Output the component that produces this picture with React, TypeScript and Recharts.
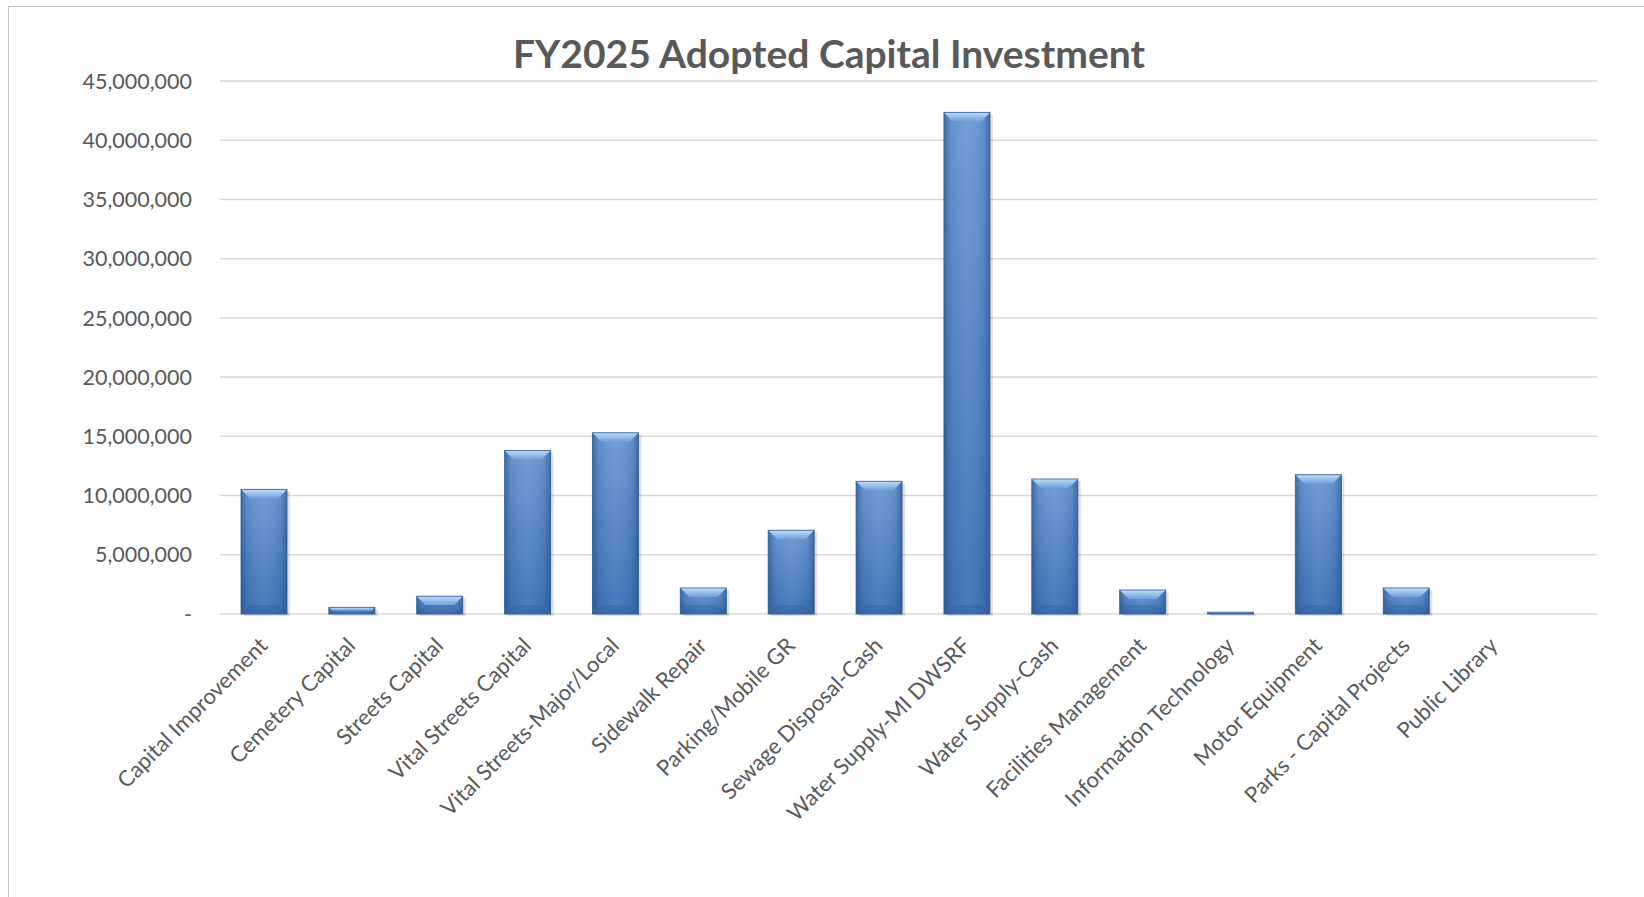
import { Bar, BarChart, CartesianGrid, XAxis, YAxis } from "recharts";

const categories = [
  "Capital Improvement",
  "Cemetery Capital",
  "Streets Capital",
  "Vital Streets Capital",
  "Vital Streets-Major/Local",
  "Sidewalk Repair",
  "Parking/Mobile GR",
  "Sewage Disposal-Cash",
  "Water Supply-MI DWSRF",
  "Water Supply-Cash",
  "Facilities Management",
  "Information Technology",
  "Motor Equipment",
  "Parks - Capital Projects",
  "Public Library",
];

const amounts = [
  10520000, 560000, 1500000, 13800000, 15300000, 2200000, 7070000, 11200000, 42350000, 11400000,
  2030000, 150000, 11760000, 2200000, 0,
];

const yTicks = [0, 5000000, 10000000, 15000000, 20000000, 25000000, 30000000, 35000000, 40000000, 45000000];

const data = categories.map((name, i) => ({ name, value: amounts[i] }));

const FONT = "Lato, 'Open Sans', sans-serif";
const TEXT = "#595959";

const fmt = (v: number) => (v === 0 ? "-" : v.toLocaleString("en-US"));

function BevelBar(props: any) {
  const { x, y, width, height } = props;
  if (!height || height <= 0) return null;
  const b = Math.min(9, height / 2, width / 2);
  return (
    <g>
      <rect x={x + 3} y={y + 2} width={width} height={height} fill="#000" opacity={0.12} />
      <rect x={x} y={y} width={width} height={height} fill="url(#barBody)" />
      <rect x={x} y={y} width={width} height={height} fill="url(#barSides)" />
      <polygon
        points={`${x},${y} ${x + width},${y} ${x + width - b},${y + b} ${x + b},${y + b}`}
        fill="url(#barTop)"
      />
      <polygon
        points={`${x},${y + height} ${x + width},${y + height} ${x + width - b},${y + height - b} ${x + b},${y + height - b}`}
        fill="#2f5f9f"
        opacity={0.35}
      />
      <rect x={x} y={y} width={width} height={height} fill="none" stroke="#2c5a94" strokeWidth={1} opacity={0.8} />
    </g>
  );
}

function XTick(props: any) {
  const { x, y, payload } = props;
  const tx = x + 5;
  const ty = y + 25;
  return (
    <text
      x={tx}
      y={ty}
      transform={`rotate(-45, ${tx}, ${ty})`}
      textAnchor="end"
      fontFamily={FONT}
      fontSize={22}
      fill={TEXT}
    >
      {payload.value}
    </text>
  );
}

export default function App() {
  return (
    <div style={{ position: "absolute", left: 0, top: 0, width: 1644, height: 897, background: "#fff", overflow: "hidden" }}>
      <div
        style={{
          position: "absolute",
          left: 8,
          top: 6,
          width: 1700,
          height: 1000,
          border: "1.5px solid #c8c8c8",
          boxSizing: "border-box",
        }}
      />
      <div
        style={{
          position: "absolute",
          left: 0,
          top: 30,
          width: 1658,
          textAlign: "center",
          fontFamily: FONT,
          fontWeight: 700,
          fontSize: 39,
          color: TEXT,
          lineHeight: "46px",
        }}
      >
        FY2025 Adopted Capital Investment
      </div>
      <div style={{ position: "absolute", left: 0, top: 0 }}>
        <BarChart width={1644} height={897} data={data} margin={{ top: 81, right: 47, left: 0, bottom: 83 }}>
          <defs>
            <linearGradient id="barBody" x1="0" y1="0" x2="0" y2="1">
              <stop offset="0%" stopColor="#6b98d3" />
              <stop offset="100%" stopColor="#3c70b4" />
            </linearGradient>
            <linearGradient id="barSides" x1="0" y1="0" x2="1" y2="0">
              <stop offset="0%" stopColor="#1f4a80" stopOpacity={0.55} />
              <stop offset="14%" stopColor="#1f4a80" stopOpacity={0.1} />
              <stop offset="50%" stopColor="#ffffff" stopOpacity={0.06} />
              <stop offset="86%" stopColor="#1f4a80" stopOpacity={0.1} />
              <stop offset="100%" stopColor="#1f4a80" stopOpacity={0.55} />
            </linearGradient>
            <linearGradient id="barTop" x1="0" y1="0" x2="0" y2="1">
              <stop offset="0%" stopColor="#c3dcf7" />
              <stop offset="100%" stopColor="#6e9fdc" />
            </linearGradient>
          </defs>
          <CartesianGrid stroke="#d9d9d9" strokeWidth={1.5} vertical={false} />
          <XAxis
            dataKey="name"
            interval={0}
            height={200}
            padding={{ left: 0, right: 59 }}
            tick={<XTick />}
            tickLine={false}
            axisLine={false}
          />
          <YAxis
            domain={[0, 45000000]}
            ticks={yTicks}
            width={220}
            tickFormatter={fmt}
            tick={{ fontFamily: FONT, fontSize: 21.5, fill: TEXT }}
            tickLine={false}
            tickSize={0}
            tickMargin={28}
            axisLine={false}
          />
          <Bar dataKey="value" barSize={46} shape={<BevelBar />} isAnimationActive={false} />
        </BarChart>
      </div>
    </div>
  );
}
